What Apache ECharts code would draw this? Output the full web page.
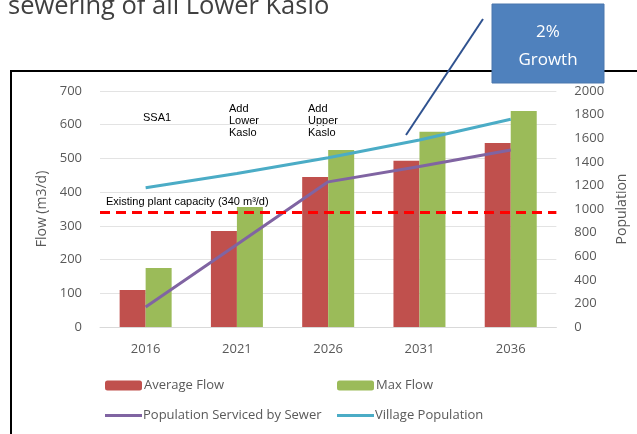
<!DOCTYPE html>
<html>
<head>
<meta charset="utf-8">
<script src="https://cdn.jsdelivr.net/npm/echarts@6/dist/echarts.min.js"></script>
<style>
  html, body { margin: 0; padding: 0; background: #ffffff; }
  #chart { width: 637px; height: 434px; }
</style>
</head>
<body>
<div id="chart"></div>
<script>
  // data
  var years = ['2016', '2021', '2026', '2031', '2036']
  var averageFlow = [110, 285, 445, 493, 546]
  var maxFlow = [175, 356, 525, 579, 641]
  var sewerPopulation = [170, 700, 1230, 1360, 1500]
  var villagePopulation = [1180, 1300, 1435, 1585, 1760]
  var plantCapacity = 340

  var grey = '#595959'
  var font = 'Open Sans'

  var chart = echarts.init(document.getElementById('chart'), null, { renderer: 'canvas' })

  var option = {
    backgroundColor: '#ffffff',
    animation: false,
    grid: { left: 100, right: 80, top: 91, bottom: 107 },
    legend: [
      { data: ['Average Flow'], left: 100, top: 374, itemWidth: 37, itemHeight: 10,
        textStyle: { color: grey, fontFamily: font, fontSize: 13, padding: [0, 0, 0, -3] } },
      { data: ['Max Flow'], left: 332, top: 374, itemWidth: 37, itemHeight: 10,
        textStyle: { color: grey, fontFamily: font, fontSize: 13, padding: [0, 0, 0, -3] } },
      { data: [{ name: 'Population Serviced by Sewer', icon: 'rect' }], left: 100, top: 404,
        itemWidth: 37, itemHeight: 3,
        textStyle: { color: grey, fontFamily: font, fontSize: 13, padding: [0, 0, 0, -4] } },
      { data: [{ name: 'Village Population', icon: 'rect' }], left: 332, top: 404,
        itemWidth: 37, itemHeight: 3,
        textStyle: { color: grey, fontFamily: font, fontSize: 13, padding: [0, 0, 0, -4] } }
    ],
    xAxis: {
      type: 'category',
      data: years,
      axisLine: { lineStyle: { color: '#d9d9d9', width: 1 } },
      axisTick: { show: false },
      axisLabel: { color: grey, fontFamily: font, fontSize: 13, margin: 16 }
    },
    yAxis: [
      {
        type: 'value', min: 0, max: 700, interval: 100,
        name: 'Flow (m3/d)', nameLocation: 'middle', nameGap: 47, nameRotate: 90,
        nameTextStyle: { color: grey, fontFamily: font, fontSize: 14 },
        axisLine: { show: false }, axisTick: { show: false },
        axisLabel: { color: grey, fontFamily: font, fontSize: 13, margin: 18 },
        splitLine: { lineStyle: { color: '#e3e3e3', width: 1 } }
      },
      {
        type: 'value', min: 0, max: 2000, interval: 200,
        name: 'Population', nameLocation: 'middle', nameGap: 54, nameRotate: 90,
        nameTextStyle: { color: grey, fontFamily: font, fontSize: 14 },
        axisLine: { show: false }, axisTick: { show: false },
        axisLabel: { color: grey, fontFamily: font, fontSize: 13, margin: 18,
          formatter: function (v) { return String(v) } },
        splitLine: { show: false }
      }
    ],
    series: [
      {
        name: 'Average Flow', type: 'bar', data: averageFlow,
        barWidth: 26, barGap: '0%',
        itemStyle: { color: '#c0504d' },
        markLine: {
          silent: true, symbol: 'none',
          lineStyle: { color: '#ff0000', type: [10, 6], width: 3 },
          label: {
            position: 'insideStartTop', formatter: 'Existing plant capacity (340 m³/d)',
            color: '#000000', fontFamily: 'Liberation Sans', fontSize: 11, distance: [6, 5]
          },
          data: [{ yAxis: plantCapacity }]
        }
      },
      {
        name: 'Max Flow', type: 'bar', data: maxFlow,
        barWidth: 26,
        itemStyle: { color: '#9bbb59' }
      },
      {
        name: 'Population Serviced by Sewer', type: 'line', yAxisIndex: 1,
        data: sewerPopulation, symbol: 'none',
        lineStyle: { color: '#8064a2', width: 3 }, itemStyle: { color: '#8064a2' }
      },
      {
        name: 'Village Population', type: 'line', yAxisIndex: 1,
        data: villagePopulation, symbol: 'none',
        lineStyle: { color: '#4bacc6', width: 3 }, itemStyle: { color: '#4bacc6' }
      }
    ],
    graphic: [
      // chart frame
      { type: 'rect', shape: { x: 11, y: 71, width: 640, height: 400 },
        style: { fill: 'none', stroke: '#000000', lineWidth: 2 }, z: 0 },
      // slide title, cut off at the top
      { type: 'text', left: 8, top: -6,
        style: { text: 'sewering of all Lower Kaslo', fill: '#404040', font: '25.5px "Open Sans"' } },
      // stage notes
      { type: 'text', left: 143, top: 112,
        style: { text: 'SSA1', fill: '#000000', font: '11px "Liberation Sans"' } },
      { type: 'text', left: 229, top: 103,
        style: { text: 'Add\nLower\nKaslo', fill: '#000000', font: '11px "Liberation Sans"', lineHeight: 12 } },
      { type: 'text', left: 308, top: 103,
        style: { text: 'Add\nUpper\nKaslo', fill: '#000000', font: '11px "Liberation Sans"', lineHeight: 12 } },
      // callout
      { type: 'line', shape: { x1: 483, y1: 19, x2: 406, y2: 135 },
        style: { stroke: '#2f528f', lineWidth: 2 }, z: 10 },
      { type: 'rect', shape: { x: 492, y: 4, width: 112, height: 79 },
        style: { fill: '#4f81bd', stroke: '#4a76ad', lineWidth: 1 }, z: 10 },
      { type: 'text', x: 548, y: 46, z: 11,
        style: { text: '2%\nGrowth', fill: '#ffffff', font: '17px "Open Sans"', lineHeight: 28,
          align: 'center', verticalAlign: 'middle' } }
    ]
  }

  chart.setOption(option)
</script>
</body>
</html>
